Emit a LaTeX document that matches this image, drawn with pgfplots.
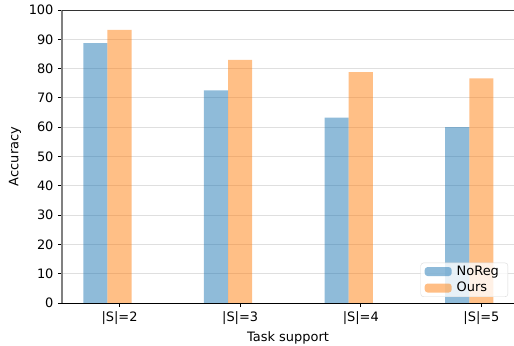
\documentclass[border=0pt]{standalone}
\usepackage{fontspec}
\setmainfont{DejaVu Sans}
\usepackage{pgfplots}
\pgfplotsset{compat=1.18}
\definecolor{cblue}{HTML}{1F77B4}
\definecolor{corange}{HTML}{FF7F0E}
\begin{document}
\fontsize{13}{15}\selectfont
\begin{tikzpicture}
\path[use as bounding box] (-62bp,-43bp) rectangle (452bp,303bp);
\begin{axis}[
  at={(0,0)}, anchor=south west,
  scale only axis, width=452bp, height=293bp,
  xmin=-0.477, xmax=3.27, ymin=0, ymax=100,
  xtick={0,1,2,3},
  xticklabels={{|S|=2},{|S|=3},{|S|=4},{|S|=5}},
  ytick={0,10,...,100},
  /pgf/number format/assume math mode=true,
  ticklabel style={font=\fontsize{13}{15}\selectfont},
  label style={font=\fontsize{13}{15}\selectfont},
  tick align=outside, tick pos=left,
  major tick length=4bp,
  tick style={black, line width=0.8bp},
  ymajorgrids, grid style={gray!25, line width=0.9bp},
  axis line style={draw=none},
  xlabel={Task support}, ylabel={Accuracy},
  every axis x label/.append style={at={(axis description cs:0.5,-0.119)}, anchor=center},
  every axis y label/.append style={at={(axis description cs:-0.104,0.5)}, anchor=center},
  legend style={at={(axis description cs:0.987,0.0205)}, anchor=south east,
    draw=gray!30, rounded corners=3bp, fill=white, fill opacity=0.8, text opacity=1,
    font=\fontsize{13}{15}\selectfont, inner xsep=4bp, inner ysep=3bp, row sep=5bp,
    nodes={inner xsep=5bp, inner ysep=0bp}},
  legend cell align=left,
  legend image code/.code={\fill[#1] (0bp,-4.5bp) rectangle (27bp,4.5bp);},
]
\addplot[ybar, bar width=0.2, bar shift=0pt, draw=none, fill=cblue, fill opacity=0.5]
  coordinates {(-0.2,88.7) (0.8,72.6) (1.8,63.3) (2.8,60.0)};
\addlegendentry{NoReg}
\addplot[ybar, bar width=0.2, bar shift=0pt, draw=none, fill=corange, fill opacity=0.5]
  coordinates {(0.0,93.2) (1.0,83.0) (2.0,78.8) (3.0,76.7)};
\addlegendentry{Ours}
\end{axis}
\draw[gray, line width=1.3bp] (0,0) -- (0,293bp);
\draw[black!80, line width=0.9bp] (0,293bp) -- (452bp,293bp);
\draw[black, line width=0.9bp] (0,0) -- (452bp,0);
\end{tikzpicture}
\end{document}
